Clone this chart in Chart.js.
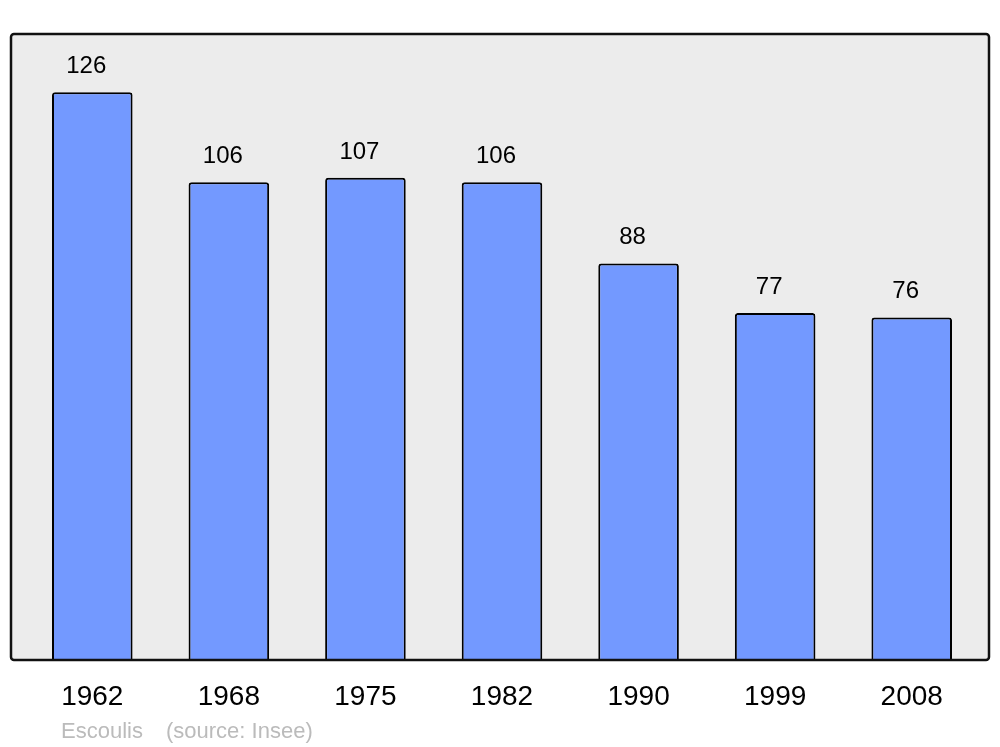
<!DOCTYPE html>
<html>
<head>
<meta charset="utf-8">
<script src="https://cdn.jsdelivr.net/npm/chart.js@4/dist/chart.umd.min.js"></script>
<style>
  html, body { margin: 0; padding: 0; background: #fff; }
</style>
</head>
<body>
<canvas id="popChart" width="1000" height="747"></canvas>
<script>
const years = ['1962', '1968', '1975', '1982', '1990', '1999', '2008'];
const population = [126, 106, 107, 106, 88, 77, 76];
const townName = 'Escoulis';
const sourceText = '(source: Insee)';

const FONT = "'Liberation Sans', Arial, sans-serif";

// grey box behind the bars, border drawn on top
const framePlugin = {
  id: 'frame',
  beforeDatasetsDraw(chart) {
    const { ctx, chartArea: a } = chart;
    ctx.save();
    ctx.beginPath();
    ctx.roundRect(a.left - 13, a.top, a.right - a.left + 22, a.bottom - a.top, 3);
    ctx.fillStyle = '#ececec';
    ctx.fill();
    ctx.restore();
  },
  afterDatasetsDraw(chart) {
    const { ctx, chartArea: a } = chart;
    ctx.save();
    ctx.beginPath();
    ctx.roundRect(a.left - 13, a.top, a.right - a.left + 22, a.bottom - a.top, 3);
    ctx.lineWidth = 2.5;
    ctx.strokeStyle = '#111';
    ctx.stroke();

    // values above each bar
    const meta = chart.getDatasetMeta(0);
    ctx.font = '24px ' + FONT;
    ctx.fillStyle = '#000';
    ctx.textAlign = 'center';
    ctx.textBaseline = 'alphabetic';
    meta.data.forEach((bar, i) => {
      ctx.fillText(String(population[i]), bar.x - 6, bar.y - 19);
    });

    // footer
    ctx.font = '22px ' + FONT;
    ctx.fillStyle = '#bbbbbb';
    ctx.textAlign = 'left';
    ctx.fillText(townName, 61, 738);
    ctx.fillText(sourceText, 166, 738);
    ctx.restore();
  }
};

new Chart(document.getElementById('popChart'), {
  type: 'bar',
  data: {
    labels: years,
    datasets: [{
      data: population,
      backgroundColor: '#7399ff',
      borderColor: '#000',
      borderWidth: 2,
      borderRadius: { topLeft: 3, topRight: 3 },
      borderSkipped: 'bottom',
      barPercentage: 0.59,
      categoryPercentage: 1,
    }],
  },
  options: {
    responsive: false,
    animation: false,
    devicePixelRatio: 1,
    layout: { padding: { left: 24, right: 20, top: 34, bottom: 0 } },
    plugins: { legend: { display: false }, tooltip: { enabled: false } },
    scales: {
      x: {
        grid: { display: false, drawTicks: false },
        border: { display: false },
        ticks: { color: '#000', font: { family: FONT, size: 28 }, padding: 20, maxRotation: 0, autoSkip: false },
        afterFit: (s) => { s.height = 87; },
      },
      y: {
        display: false,
        min: 0,
        max: 138.9,
      },
    },
  },
  plugins: [framePlugin],
});
</script>
</body>
</html>
